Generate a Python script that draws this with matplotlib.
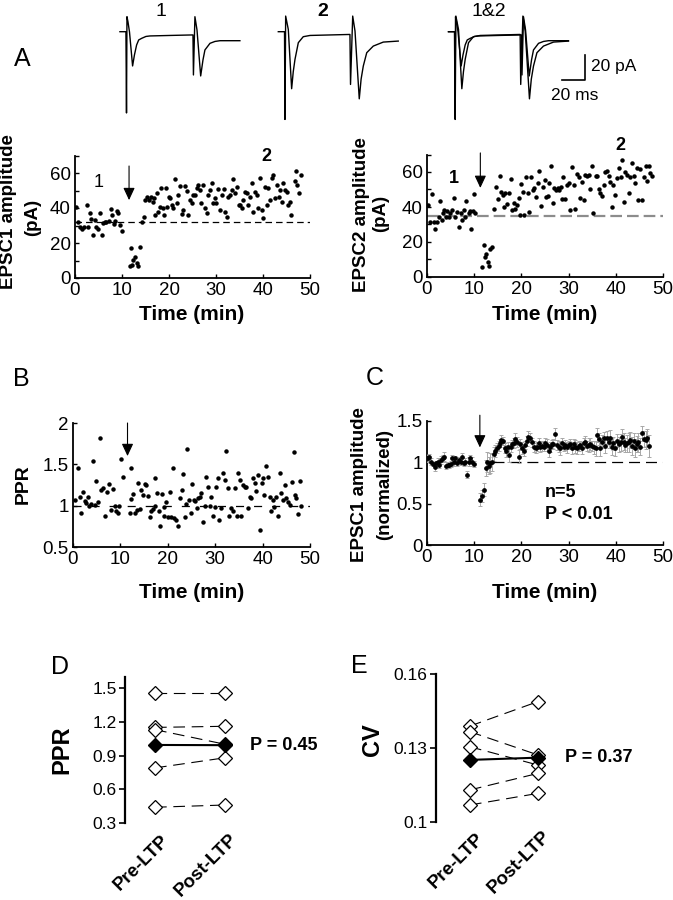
import matplotlib
matplotlib.use('Agg')
import matplotlib.pyplot as plt
import numpy as np

plt.rcParams['font.family'] = ['Liberation Sans', 'DejaVu Sans']
plt.rcParams['lines.scale_dashes'] = False

# ---------------- data ----------------
# example traces (ms, pA)
trace1_ms = [0, 5.2, 5.7, 6.1, 7.0, 8.3, 11.0, 12.6, 14.5, 16.3, 18.9, 22.6, 26.1, 43.5, 62.6,
             63.5, 63.9, 65.2, 67.0, 70.2, 72.2, 73.9, 78.3, 82.6, 87.0, 104.3]
trace1_pA = [0, 0, -65, 12, 7.8, -0.2, -27.4, -18.6, -10.6, -6.6, -5.3, -3.8, -3.4, -3.0, -2.6,
             -2.6, -34.6, 12, 1.4, -35.4, -22.6, -14.6, -9.3, -7.8, -7.2, -7.2]
trace2_ms = [0, 5.4, 5.8, 6.4, 8.7, 11.6, 13.0, 14.5, 17.4, 21.7, 27.6, 62.3, 62.8, 64.7, 66.7,
             70.4, 72.0, 73.9, 76.9, 82.6, 91.3, 104.3]
trace2_pA = [0, 0, -70.2, 12.5, 1.8, -45.6, -32.0, -22.2, -8.8, -4.0, -3.0, -2.2, -42.2, 12.5, 0.5,
             -53.7, -38.0, -27.5, -16.8, -11.5, -8.3, -7.5]
trace_labels = ['1', '2', '1&2']

# EPSC1 amplitude (min, pA)
epsc1 = [(0.2, 40.4), (0.6, 32.2), (1.1, 29.0), (1.4, 28.0), (1.9, 29.0), (2.5, 41.5), (2.8, 29.0),
         (3.2, 37.0), (3.5, 34.0), (3.9, 24.6), (4.3, 33.0), (4.5, 29.0), (4.9, 28.2), (5.3, 37.3),
         (5.7, 24.6), (6.0, 31.2), (6.4, 31.8), (6.7, 32.2), (7.2, 32.6), (7.6, 39.4), (7.9, 36.0),
         (8.2, 31.0), (8.5, 32.4), (8.9, 38.5), (9.2, 37.3), (9.6, 30.1), (10.1, 27.0),
         (11.6, 7.0), (11.9, 17.0), (12.1, 7.4), (12.4, 10.3), (12.8, 11.8), (13.1, 8.4), (13.4, 7.0),
         (13.8, 17.9),
         (14.2, 32.2), (14.7, 35.0), (14.9, 44.6), (15.4, 46.5), (15.7, 44.6), (16.1, 46.5),
         (16.5, 43.6), (16.8, 45.5), (17.0, 36.0), (17.5, 48.4), (17.7, 37.9), (18.1, 40.8),
         (18.4, 51.2), (18.8, 39.8), (19.0, 36.0), (19.4, 51.2), (19.6, 40.8), (20.0, 46.5),
         (20.2, 45.5), (20.6, 41.7), (20.9, 39.8), (21.3, 56.4), (21.6, 42.7), (22.0, 47.4),
         (22.3, 52.6), (22.7, 36.6), (23.0, 38.9), (23.4, 52.6), (23.8, 49.9), (24.1, 36.0),
         (24.5, 44.6), (24.8, 42.7), (25.2, 47.4), (25.5, 47.4), (25.9, 51.2), (26.2, 53.1),
         (26.6, 50.3), (26.9, 42.7), (27.3, 53.3), (27.7, 39.8), (28.0, 37.0), (28.4, 47.4),
         (28.7, 50.3), (29.1, 54.1), (29.4, 42.7), (29.8, 45.5), (30.1, 42.7), (30.5, 50.7),
         (30.9, 38.9), (31.2, 47.4), (31.6, 50.7), (31.9, 37.9), (32.3, 35.0), (32.6, 46.5),
         (33.0, 47.4), (33.3, 50.3), (33.7, 56.4), (34.0, 48.4), (34.4, 51.8), (34.8, 41.7),
         (35.1, 41.7), (35.5, 39.8), (35.8, 44.6), (36.2, 49.3), (36.5, 48.4), (36.9, 41.7),
         (37.2, 46.5), (37.6, 54.1), (37.9, 37.9), (38.3, 49.3), (38.7, 47.4), (39.0, 39.8),
         (39.4, 57.0), (39.7, 38.9), (40.1, 34.1), (40.4, 52.2), (40.8, 41.7), (41.1, 51.2),
         (41.5, 44.6), (41.9, 57.0), (42.2, 58.9), (42.6, 45.5), (42.9, 53.1), (43.3, 46.5),
         (43.6, 50.3), (44.0, 43.6), (44.3, 54.1), (44.7, 50.3), (45.0, 49.3), (45.4, 41.7),
         (45.7, 43.6), (45.9, 36.0), (46.8, 55.6), (47.0, 61.3), (47.3, 53.1), (47.7, 48.4),
         (48.0, 58.9)]

# EPSC2 amplitude (min, pA)
epsc2 = [(0.2, 41.0), (0.7, 31.6), (1.1, 47.2), (1.4, 31.6), (1.8, 27.2), (2.1, 31.6), (2.5, 34.5),
         (2.8, 43.6), (3.2, 32.6), (3.3, 36.4), (3.7, 38.3), (4.0, 34.5), (4.2, 37.9), (4.6, 34.5),
         (4.9, 36.4), (5.3, 38.3), (5.7, 45.0), (6.0, 34.5), (6.4, 37.3), (6.7, 28.4), (7.1, 36.8),
         (7.4, 32.6), (7.8, 38.3), (8.1, 34.5), (8.3, 43.6), (8.8, 36.4), (9.2, 37.7), (9.4, 27.4),
         (9.7, 37.7), (10.0, 47.4), (10.2, 36.4),
         (11.65, 5.9), (12.0, 18.3), (12.2, 11.6), (12.5, 13.1), (12.9, 8.8), (13.2, 6.5),
         (13.4, 15.8), (13.8, 17.0),
         (14.3, 38.9), (14.6, 51.6), (15.0, 44.4), (15.4, 57.9), (15.7, 48.8), (16.0, 46.9),
         (16.4, 39.8), (16.6, 47.8), (16.9, 41.7), (17.3, 48.2), (17.7, 55.8), (18.0, 38.3),
         (18.4, 42.5), (18.7, 38.9), (19.1, 41.1), (19.4, 45.0), (19.6, 35.4), (20.0, 53.1),
         (20.3, 48.8), (20.6, 35.4), (21.0, 57.3), (21.3, 47.8), (21.7, 37.3), (22.0, 57.0),
         (22.4, 49.7), (22.7, 50.7), (23.1, 45.9), (23.5, 53.5), (23.8, 60.8), (24.2, 40.6),
         (24.6, 51.6), (24.9, 55.4), (25.2, 45.9), (25.6, 46.3), (25.9, 53.5), (26.3, 63.4),
         (26.6, 42.5), (27.0, 50.7), (27.3, 49.7), (27.7, 50.7), (28.0, 49.7), (28.4, 51.2),
         (28.6, 44.4), (28.9, 57.3), (29.3, 44.4), (29.7, 52.6), (30.0, 53.5), (30.4, 38.3),
         (30.7, 63.0), (31.1, 52.6), (31.4, 38.7), (31.8, 58.9), (32.1, 57.3), (32.5, 45.0),
         (32.8, 54.5), (33.2, 44.0), (33.5, 58.3), (33.9, 57.7), (34.3, 58.3), (34.6, 50.1),
         (34.9, 63.4), (35.2, 36.4), (35.7, 57.7), (36.0, 57.7), (36.4, 50.1), (36.7, 48.2),
         (37.1, 46.3), (37.4, 52.6), (37.8, 60.2), (38.1, 60.8), (38.5, 57.7), (38.8, 54.5),
         (39.2, 39.8), (39.5, 52.6), (39.9, 46.9), (40.3, 56.4), (40.6, 62.1), (41.0, 57.3),
         (41.3, 66.9), (41.7, 43.0), (42.0, 60.2), (42.4, 58.3), (42.7, 47.8), (43.1, 57.3),
         (43.4, 65.0), (43.8, 57.7), (44.1, 53.5), (44.5, 62.1), (44.8, 44.0), (45.2, 61.7),
         (45.5, 44.0), (45.9, 57.3), (46.3, 63.4), (46.6, 55.0), (47.0, 63.4), (47.3, 59.6),
         (47.7, 57.7)]

# paired-pulse ratio (min, ratio)
ppr = [(0.35, 1.07), (1.05, 1.46), (1.4, 1.11), (1.76, 0.91), (2.1, 1.17), (2.46, 1.06), (2.8, 1.03),
       (3.2, 1.11), (3.3, 0.99), (3.9, 1.02), (4.2, 1.54), (4.6, 1.01), (4.9, 1.30), (5.3, 1.05),
       (5.6, 1.82), (6.0, 1.19), (6.3, 1.21), (6.7, 0.88), (7.2, 1.17), (7.7, 1.26), (8.1, 0.95),
       (8.4, 1.20), (8.8, 1.00), (9.1, 0.93), (9.5, 0.91), (9.8, 0.99), (10.2, 1.56), (10.5, 1.35),
       (12.0, 0.91), (12.2, 1.08), (12.3, 1.46), (12.7, 1.14), (13.0, 0.91), (13.4, 0.95),
       (13.7, 1.27), (14.1, 0.96), (14.4, 1.19), (14.8, 1.13), (15.1, 1.26), (15.5, 1.25),
       (15.8, 1.12), (16.2, 0.86), (16.5, 0.93), (16.9, 0.96), (17.2, 0.99), (17.4, 1.33),
       (17.8, 1.15), (18.1, 0.93), (18.4, 0.76), (18.8, 1.14), (19.1, 0.87), (19.3, 0.98),
       (19.7, 1.05), (20.0, 0.86), (20.4, 1.17), (20.7, 0.86), (21.1, 1.45), (21.4, 0.85),
       (21.8, 0.83), (22.2, 0.75), (22.5, 1.09), (22.9, 1.19), (23.2, 1.38), (23.6, 0.86),
       (23.9, 1.02), (24.1, 1.68), (24.4, 1.07), (24.8, 0.91), (25.1, 1.26), (25.5, 1.07),
       (25.8, 1.06), (26.2, 0.97), (26.4, 1.09), (26.7, 1.10), (27.1, 1.15), (27.4, 0.80),
       (27.8, 0.99), (28.1, 1.35), (28.5, 1.23), (28.8, 1.00), (29.2, 1.11), (29.5, 0.88),
       (29.9, 0.98), (30.2, 1.23), (30.6, 1.34), (30.9, 0.83), (31.3, 0.97), (31.6, 1.40),
       (32.0, 1.31), (32.3, 1.66), (32.7, 1.21), (33.0, 0.87), (33.4, 0.97), (33.8, 0.94),
       (34.1, 1.21), (34.5, 0.87), (34.8, 1.40), (35.2, 1.31), (35.5, 0.87), (35.9, 1.25),
       (36.2, 1.23), (36.6, 1.23), (36.9, 0.97), (37.3, 1.11), (37.6, 1.09), (38.0, 1.33),
       (38.3, 1.27), (38.7, 1.18), (39.0, 1.37), (39.5, 0.70), (39.9, 1.27), (40.1, 1.34),
       (40.4, 1.13), (40.8, 1.48), (41.1, 1.35), (41.5, 1.10), (41.8, 0.93), (42.2, 1.07),
       (42.5, 0.98), (42.9, 1.10), (43.2, 0.87), (43.6, 1.40), (43.9, 1.15), (44.3, 1.07),
       (44.7, 1.25), (45.0, 1.09), (45.4, 1.05), (45.7, 1.01), (46.1, 1.29), (46.6, 1.65),
       (46.8, 1.13), (47.1, 1.09), (47.5, 0.90), (47.8, 1.30), (48.2, 0.99)]

# normalized EPSC1 (min, mean, sem), n=5
norm_epsc1 = [(0.2, 1.05, 0.04), (0.5, 1.06, 0.04), (0.9, 1.01, 0.04), (1.3, 0.98, 0.03), (1.6, 0.94, 0.04),
              (1.9, 0.99, 0.03), (2.3, 1.01, 0.04), (2.6, 0.97, 0.04), (3.0, 1.03, 0.05), (3.3, 1.05, 0.04),
              (3.6, 1.07, 0.05), (4.0, 0.96, 0.04), (4.4, 0.97, 0.03), (4.7, 0.97, 0.04), (5.0, 0.98, 0.04),
              (5.4, 1.05, 0.04), (5.7, 1.01, 0.05), (6.0, 1.05, 0.03), (6.4, 0.99, 0.04), (6.7, 1.03, 0.04),
              (7.1, 1.01, 0.04), (7.4, 1.06, 0.05), (7.8, 0.99, 0.03), (8.1, 1.01, 0.04), (8.5, 0.85, 0.04),
              (8.8, 1.01, 0.05), (9.2, 1.05, 0.04), (9.5, 1.01, 0.05), (9.9, 0.98, 0.04),
              (11.3, 0.55, 0.08), (11.65, 0.59, 0.07), (12.0, 0.67, 0.08), (12.4, 0.93, 0.10),
              (12.7, 1.00, 0.12), (13.1, 0.96, 0.10), (13.4, 0.99, 0.12), (13.8, 1.00, 0.10),
              (14.1, 1.10, 0.08), (14.5, 1.14, 0.07), (14.8, 1.17, 0.06), (15.2, 1.20, 0.06), (15.5, 1.23, 0.05),
              (15.7, 1.27, 0.06), (16.1, 1.26, 0.05), (16.5, 1.17, 0.06), (16.7, 1.14, 0.07), (17.1, 1.19, 0.06),
              (17.3, 1.09, 0.08), (17.7, 1.19, 0.06), (18.0, 1.22, 0.05), (18.4, 1.23, 0.06), (18.7, 1.28, 0.07),
              (19.1, 1.25, 0.06), (19.4, 1.07, 0.08), (19.8, 1.22, 0.06), (20.1, 1.17, 0.07), (20.5, 1.14, 0.06),
              (20.8, 1.21, 0.05), (21.2, 1.26, 0.06), (21.5, 1.31, 0.07), (21.9, 1.30, 0.06), (22.2, 1.24, 0.06),
              (22.6, 1.19, 0.07), (23.0, 1.17, 0.06), (23.3, 1.19, 0.05), (23.7, 1.23, 0.06), (24.0, 1.18, 0.05),
              (24.4, 1.20, 0.06), (24.7, 1.19, 0.05), (25.1, 1.23, 0.06), (25.4, 1.21, 0.07), (25.8, 1.14, 0.08),
              (26.1, 1.19, 0.06), (26.5, 1.22, 0.05), (26.8, 1.22, 0.06), (27.2, 1.34, 0.07), (27.5, 1.21, 0.06),
              (27.9, 1.19, 0.07), (28.2, 1.17, 0.08), (28.6, 1.23, 0.06), (29.0, 1.19, 0.05), (29.3, 1.21, 0.06),
              (29.7, 1.18, 0.07), (30.0, 1.21, 0.05), (30.4, 1.22, 0.06), (30.7, 1.17, 0.07), (31.1, 1.22, 0.06),
              (31.4, 1.19, 0.08), (31.8, 1.17, 0.07), (32.1, 1.20, 0.06), (32.5, 1.21, 0.05), (32.8, 1.17, 0.07),
              (33.2, 1.23, 0.06), (33.5, 1.25, 0.07), (33.9, 1.20, 0.06), (34.3, 1.21, 0.08), (34.6, 1.22, 0.07),
              (35.0, 1.20, 0.06), (35.3, 1.18, 0.08), (35.7, 1.17, 0.09), (36.0, 1.33, 0.08), (36.4, 1.28, 0.07),
              (36.7, 1.17, 0.09), (37.1, 1.25, 0.08), (37.4, 1.30, 0.07), (37.8, 1.20, 0.09), (38.1, 1.30, 0.08),
              (38.5, 1.24, 0.07), (38.8, 1.30, 0.09), (39.2, 1.19, 0.10), (39.5, 1.23, 0.08), (39.9, 1.17, 0.09),
              (40.3, 1.26, 0.08), (40.6, 1.22, 0.09), (41.0, 1.24, 0.10), (41.3, 1.31, 0.09), (41.7, 1.25, 0.10),
              (42.0, 1.21, 0.09), (42.4, 1.23, 0.10), (42.7, 1.24, 0.11), (43.1, 1.27, 0.10), (43.4, 1.20, 0.11),
              (43.8, 1.26, 0.10), (44.1, 1.17, 0.11), (44.5, 1.22, 0.10), (44.8, 1.24, 0.11), (45.2, 1.19, 0.10),
              (45.5, 1.35, 0.09), (45.9, 1.28, 0.10), (46.3, 1.27, 0.11), (46.6, 1.30, 0.10), (47.0, 1.20, 0.13)]

# paired comparisons
conditions = ['Pre-LTP', 'Post-LTP']
ppr_pre = [1.46, 1.15, 1.13, 0.79, 0.44]
ppr_post = [1.46, 1.16, 1.00, 0.88, 0.46]
cv_pre = [0.1389, 0.1366, 0.1305, 0.1130, 0.1069]
cv_post = [0.1488, 0.1272, 0.1231, 0.1197, 0.1116]

# ---------------- layout helpers ----------------
W, H = 673, 900
fig = plt.figure(figsize=(W / 100, H / 100), dpi=100)


def rect(l, t, r, b):
    return [l / W, 1 - b / H, (r - l) / W, (b - t) / H]


def ftext(x, y, s, **kw):
    fig.text(x / W, 1 - y / H, s, **kw)


def arrow(ax, x, ytop, ytip):
    ax.annotate('', xy=(x, ytip), xytext=(x, ytop),
                arrowprops=dict(arrowstyle='-|>,head_length=0.75,head_width=0.35',
                                lw=0.8, color='k', shrinkA=0, shrinkB=0),
                annotation_clip=False)


def time_axes(ax, ylim, yticks, minor=None):
    ax.set_xlim(0, 50)
    ax.set_ylim(*ylim)
    for s in ['top', 'right']:
        ax.spines[s].set_visible(False)
    for s in ['left', 'bottom']:
        ax.spines[s].set_linewidth(1.3)
    ax.set_xticks(range(0, 51, 10))
    ax.set_yticks(yticks)
    if minor is not None:
        ax.set_yticks(minor, minor=True)
    ax.tick_params(which='both', direction='in', length=3, width=1, labelsize=13.5, pad=3)
    ax.patch.set_alpha(0)


BOLD = dict(fontweight='bold')

# ---------------- panel A traces ----------------
axt = fig.add_axes([0, 1 - 130 / H, 1, 130 / H])
axt.set_xlim(0, W / 1.15)
axt.set_ylim((31.7 - 130) / 1.25, 31.7 / 1.25)
axt.axis('off')
offsets = [104.3, 242.0, 390.0]
axt.plot([offsets[0] + t for t in trace1_ms], trace1_pA, color='k', lw=1)
axt.plot([offsets[1] + t for t in trace2_ms], trace2_pA, color='k', lw=1)
axt.plot([offsets[2] + t for t in trace1_ms], trace1_pA, color='k', lw=1)
axt.plot([offsets[2] + t for t in trace2_ms], trace2_pA, color='k', lw=1)
# scale bar
axt.plot([508.7, 508.7, 488.7], [-18.6, -38.6, -38.6], color='k', lw=1.2)
ftext(591, 67, '20 pA', fontsize=12.5, ha='left', va='center')
ftext(575, 95, '20 ms', fontsize=12.5, ha='center', va='center')
ftext(161, 12, trace_labels[0], fontsize=14, ha='center', va='center')
ftext(323, 12, trace_labels[1], fontsize=14, ha='center', va='center', **BOLD)
ftext(489, 12, trace_labels[2], fontsize=14, ha='center', va='center')
ftext(22, 59, 'A', fontsize=18, ha='center', va='center')

# ---------------- panel A scatter EPSC1 ----------------
ax1 = fig.add_axes(rect(75, 155.5, 310, 278))
time_axes(ax1, (0, 70), [0, 20, 40, 60], minor=range(0, 71, 10))
t, v = zip(*epsc1)
ax1.axhline(32, color='k', lw=0.9, dashes=(4.7, 2.9), zorder=1)
ax1.plot(t, v, 'o', ms=2.2, color='k', zorder=3)
arrow(ax1, 11.5, 64, 44.5)
ax1.text(5.0, 54.5, '1', fontsize=13, ha='center', va='center')
ax1.text(40.8, 69.7, '2', fontsize=13, ha='center', va='center', clip_on=False, **BOLD)
ftext(9, 212, 'EPSC1 amplitude', fontsize=13.5, rotation=90, ha='center', va='center', **BOLD)
ftext(33, 217, '(pA)', fontsize=13.5, rotation=90, ha='center', va='center', **BOLD)
ftext(192, 315, 'Time (min)', fontsize=15, ha='center', va='center', **BOLD)

# ---------------- panel A scatter EPSC2 ----------------
ax2 = fig.add_axes(rect(427, 154.5, 663, 277))
time_axes(ax2, (0, 70), [0, 20, 40, 60], minor=range(0, 71, 10))
t, v = zip(*epsc2)
ax2.axhline(35, color='#8c8c8c', lw=1.6, dashes=(8.4, 3.6), zorder=1)
ax2.plot(t, v, 'o', ms=2.2, color='k', zorder=3)
arrow(ax2, 11.3, 70.9, 50.9)
ax2.text(5.6, 56.4, '1', fontsize=13, ha='center', va='center', **BOLD)
ax2.text(40.9, 75.4, '2', fontsize=13, ha='center', va='center', clip_on=False, **BOLD)
ftext(361, 215, 'EPSC2 amplitude', fontsize=13.5, rotation=90, ha='center', va='center', **BOLD)
ftext(381, 213, '(pA)', fontsize=13.5, rotation=90, ha='center', va='center', **BOLD)
ftext(545, 315, 'Time (min)', fontsize=15, ha='center', va='center', **BOLD)

# ---------------- panel B ----------------
axb = fig.add_axes(rect(73, 423, 310, 547))
time_axes(axb, (0.5, 2.0), [0.5, 1, 1.5, 2])
axb.set_yticklabels(['0.5', '1', '1.5', '2'])
t, v = zip(*ppr)
axb.axhline(1.0, color='k', lw=0.9, dashes=(5.8, 7.2), zorder=1)
axb.plot(t, v, 'o', ms=2.2, color='k', zorder=3)
arrow(axb, 11.5, 2.0, 1.6)
ftext(21, 379, 'B', fontsize=18, ha='center', va='center')
ftext(23, 484, 'PPR', fontsize=14, rotation=90, ha='center', va='center', **BOLD)
ftext(192, 593, 'Time (min)', fontsize=15, ha='center', va='center', **BOLD)

# ---------------- panel C ----------------
axc = fig.add_axes(rect(427, 421, 663, 545))
time_axes(axc, (0, 1.5), [0, 0.5, 1, 1.5])
axc.set_yticklabels(['0', '0.5', '1', '1.5'])
t, v, e = zip(*norm_epsc1)
axc.plot([14, 50], [1, 1], color='k', lw=0.9, dashes=(7.9, 4.3), zorder=1)
axc.errorbar(t, v, yerr=e, fmt='o', ms=2.4, color='k', ecolor='#a8a8a8',
             elinewidth=0.7, capsize=1.5, capthick=0.7, zorder=3)
arrow(axc, 11.2, 1.57, 1.18)
axc.text(24.9, 0.64, 'n=5', fontsize=13, ha='left', va='center', **BOLD)
axc.text(24.9, 0.365, 'P < 0.01', fontsize=13, ha='left', va='center', **BOLD)
ftext(375, 378, 'C', fontsize=18, ha='center', va='center')
ftext(360, 485, 'EPSC1 amplitude', fontsize=13.5, rotation=90, ha='center', va='center', **BOLD)
ftext(385, 484, '(normalized)', fontsize=13.5, rotation=90, ha='center', va='center', **BOLD)
ftext(545, 593, 'Time (min)', fontsize=15, ha='center', va='center', **BOLD)


# ---------------- panels D, E ----------------
def paired_axes(ax, pre, post, ylim, yticks, yticklabels, ptext, px):
    ax.set_ylim(*ylim)
    for s in ['top', 'right', 'bottom']:
        ax.spines[s].set_visible(False)
    ax.spines['left'].set_linewidth(1.6)
    ax.set_yticks(yticks)
    ax.set_yticklabels(yticklabels)
    ax.set_xticks([])
    ax.tick_params(axis='y', direction='out', length=4, width=1.2, labelsize=12.5, pad=2)
    ax.patch.set_alpha(0)
    for a, b in zip(pre, post):
        ax.plot([1, 2], [a, b], color='k', lw=0.8, dashes=(8.4, 4.8), zorder=1)
    ax.plot([1] * len(pre), pre, ls='none', marker='D', ms=7, mfc='white', mec='k', mew=0.9, zorder=3)
    ax.plot([2] * len(post), post, ls='none', marker='D', ms=7, mfc='white', mec='k', mew=0.9, zorder=3)
    ax.plot([1, 2], [np.mean(pre), np.mean(post)], color='k', lw=1.5, marker='D', ms=7.5,
            mfc='k', mec='k', zorder=4)
    ax.text(px, np.mean(post), ptext, fontsize=13, ha='left', va='center', **BOLD)


axd = fig.add_axes(rect(125, 676.8, 330, 823))
axd.set_xlim(0.571, 3.5)
paired_axes(axd, ppr_pre, ppr_post, (0.3, 1.6), [0.3, 0.6, 0.9, 1.2, 1.5],
            ['0.3', '0.6', '0.9', '1.2', '1.5'], 'P = 0.45', 2.36)
ftext(60, 667, 'D', fontsize=18, ha='center', va='center')
ftext(62, 750, 'PPR', fontsize=17, rotation=90, ha='center', va='center', **BOLD)
ftext(166, 838, conditions[0], fontsize=13.5, rotation=45, rotation_mode='anchor',
      ha='right', va='center', **BOLD)
ftext(235, 837, conditions[1], fontsize=13.5, rotation=45, rotation_mode='anchor',
      ha='right', va='center', **BOLD)

axe = fig.add_axes(rect(436, 674, 673, 822))
axe.set_xlim(0.5, 3.99)
paired_axes(axe, cv_pre, cv_post, (0.1, 0.16), [0.1, 0.13, 0.16],
            ['0.1', '0.13', '0.16'], 'P = 0.37', 2.40)
ftext(359, 666, 'E', fontsize=18, ha='center', va='center')
ftext(372, 740, 'CV', fontsize=17, rotation=90, ha='center', va='center', **BOLD)
ftext(481, 836, conditions[0], fontsize=13.5, rotation=45, rotation_mode='anchor',
      ha='right', va='center', **BOLD)
ftext(548, 834, conditions[1], fontsize=13.5, rotation=45, rotation_mode='anchor',
      ha='right', va='center', **BOLD)

fig.savefig('out.png', dpi=100)
